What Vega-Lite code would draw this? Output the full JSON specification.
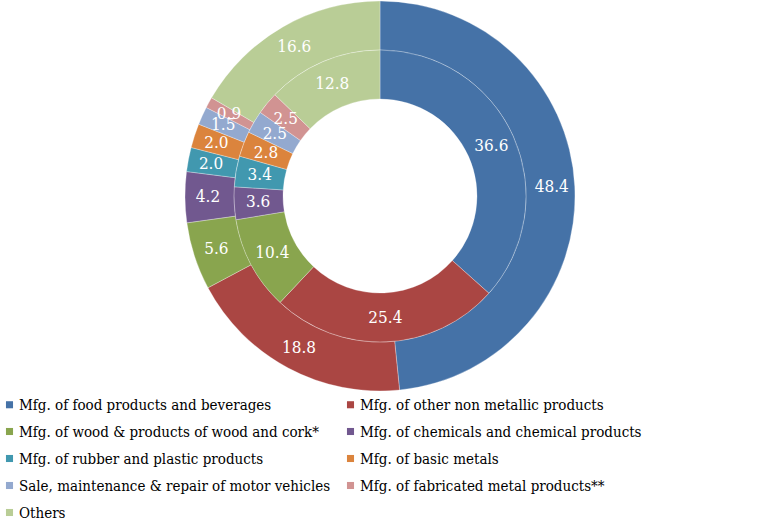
{
  "$schema": "https://vega.github.io/schema/vega-lite/v6.json",
  "width": 760,
  "height": 390,
  "padding": 0,
  "autosize": {"type": "pad"},
  "background": "white",
  "config": {"view": {"stroke": null}, "font": "DejaVu Serif Condensed, DejaVu Serif"},
  "data": {"values": [
    {"ring": "outer", "idx": 1, "cat": "Mfg. of food products and beverages", "value": 48.4},
    {"ring": "outer", "idx": 2, "cat": "Mfg. of other non metallic products", "value": 18.8},
    {"ring": "outer", "idx": 3, "cat": "Mfg. of wood & products of wood and cork*", "value": 5.6},
    {"ring": "outer", "idx": 4, "cat": "Mfg. of chemicals and chemical products", "value": 4.2},
    {"ring": "outer", "idx": 5, "cat": "Mfg. of rubber and plastic products", "value": 2.0},
    {"ring": "outer", "idx": 6, "cat": "Mfg. of basic metals", "value": 2.0},
    {"ring": "outer", "idx": 7, "cat": "Sale, maintenance & repair of motor vehicles", "value": 1.5},
    {"ring": "outer", "idx": 8, "cat": "Mfg. of fabricated metal products**", "value": 0.9},
    {"ring": "outer", "idx": 9, "cat": "Others", "value": 16.6},
    {"ring": "inner", "idx": 1, "cat": "Mfg. of food products and beverages", "value": 36.6},
    {"ring": "inner", "idx": 2, "cat": "Mfg. of other non metallic products", "value": 25.4},
    {"ring": "inner", "idx": 3, "cat": "Mfg. of wood & products of wood and cork*", "value": 10.4},
    {"ring": "inner", "idx": 4, "cat": "Mfg. of chemicals and chemical products", "value": 3.6},
    {"ring": "inner", "idx": 5, "cat": "Mfg. of rubber and plastic products", "value": 3.4},
    {"ring": "inner", "idx": 6, "cat": "Mfg. of basic metals", "value": 2.8},
    {"ring": "inner", "idx": 7, "cat": "Sale, maintenance & repair of motor vehicles", "value": 2.5},
    {"ring": "inner", "idx": 8, "cat": "Mfg. of fabricated metal products**", "value": 2.5},
    {"ring": "inner", "idx": 9, "cat": "Others", "value": 12.8}
  ]},
  "encoding": {
    "theta": {"field": "value", "type": "quantitative", "stack": true},
    "order": {"field": "idx", "type": "quantitative"},
    "color": {
      "field": "cat", "type": "nominal",
      "scale": {
        "domain": ["Mfg. of food products and beverages", "Mfg. of wood & products of wood and cork*", "Mfg. of rubber and plastic products", "Sale, maintenance & repair of motor vehicles", "Others", "Mfg. of other non metallic products", "Mfg. of chemicals and chemical products", "Mfg. of basic metals", "Mfg. of fabricated metal products**"],
        "range": ["#4572A7", "#89A54E", "#4198AF", "#93A9CF", "#B9CD96", "#AA4643", "#71588F", "#DB843D", "#D19392"]
      },
      "legend": {
        "title": null,
        "orient": "none",
        "legendX": 2,
        "legendY": 396,
        "columns": 2,
        "columnPadding": 12,
        "rowPadding": 11,
        "symbolType": "square",
        "symbolSize": 50,
        "symbolStrokeWidth": 0,
        "symbolOffset": 0,
        "labelOffset": 2,
        "labelFont": "DejaVu Serif Condensed, DejaVu Serif",
        "labelFontSize": 15,
        "labelColor": "black",
        "labelLimit": 400
      }
    }
  },
  "layer": [
    {
      "transform": [{"filter": "datum.ring === 'outer'"}],
      "mark": {"type": "arc", "radius": 195, "radius2": 146, "stroke": "white", "strokeWidth": 0.3}
    },
    {
      "transform": [{"filter": "datum.ring === 'inner'"}],
      "mark": {"type": "arc", "radius": 146, "radius2": 97, "stroke": "white", "strokeWidth": 0.3}
    },
    {
      "transform": [{"filter": "datum.ring === 'outer'"}],
      "mark": {"type": "text", "radius": 172, "font": "DejaVu Serif Condensed, DejaVu Serif", "fontSize": 17, "fill": "white"},
      "encoding": {"text": {"field": "value", "type": "quantitative", "format": ".1f"}, "color": {"value": "white"}}
    },
    {
      "transform": [{"filter": "datum.ring === 'inner'"}],
      "mark": {"type": "text", "radius": 122, "font": "DejaVu Serif Condensed, DejaVu Serif", "fontSize": 17, "fill": "white"},
      "encoding": {"text": {"field": "value", "type": "quantitative", "format": ".1f"}, "color": {"value": "white"}}
    }
  ]
}
